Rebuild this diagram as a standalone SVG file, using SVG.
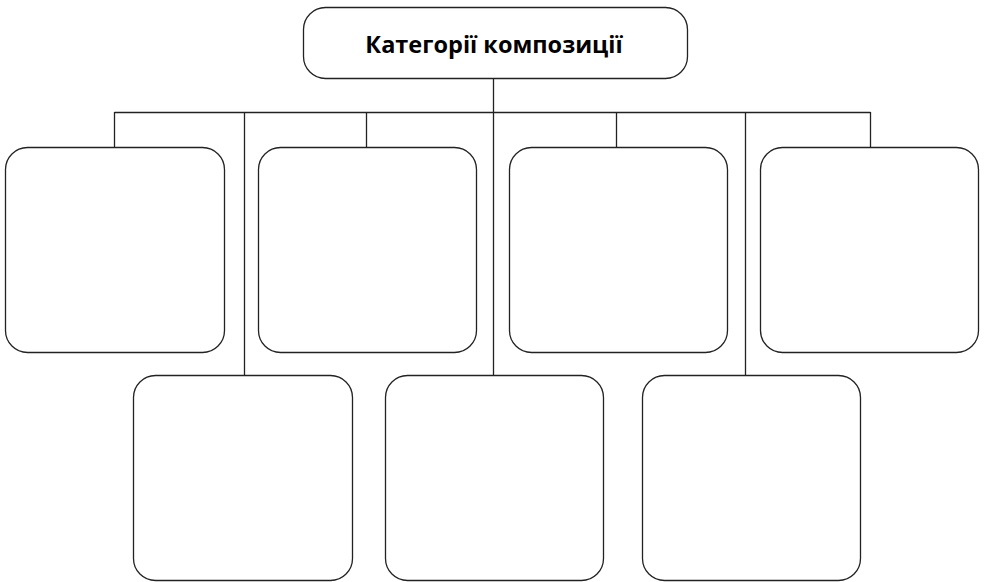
<svg xmlns="http://www.w3.org/2000/svg" width="986" height="582" viewBox="0 0 986 582">
<style>
.box{fill:#fff;stroke:#222;stroke-width:1.3}
.ln{fill:none;stroke:#222;stroke-width:1.3}
.title{font-family:"Open Sans","Liberation Sans",sans-serif;font-weight:bold;font-size:23.5px;fill:#000;text-anchor:middle}
</style>
<rect width="986" height="582" fill="#fff"/>
<g id="connectors">
<line class="ln" x1="493.5" y1="78" x2="493.5" y2="375"/>
<line class="ln" x1="114.5" y1="112.5" x2="870.5" y2="112.5"/>
<line class="ln" x1="114.5" y1="112" x2="114.5" y2="147"/>
<line class="ln" x1="366.5" y1="112" x2="366.5" y2="147"/>
<line class="ln" x1="616.5" y1="112" x2="616.5" y2="147"/>
<line class="ln" x1="870.5" y1="112" x2="870.5" y2="147"/>
<line class="ln" x1="244.5" y1="112" x2="244.5" y2="375"/>
<line class="ln" x1="745.5" y1="112" x2="745.5" y2="375"/>
</g>
<g id="root">
<rect class="box" x="303.5" y="7.5" width="384" height="71" rx="22"/>
<text class="title" x="494" y="53">Категорії композиції</text>
</g>
<g id="n1"><rect class="box" x="5.5" y="147.5" width="219" height="205" rx="22"/></g>
<g id="n2"><rect class="box" x="258.5" y="147.5" width="218" height="205" rx="22"/></g>
<g id="n3"><rect class="box" x="509.5" y="147.5" width="218" height="205" rx="22"/></g>
<g id="n4"><rect class="box" x="760.5" y="147.5" width="218" height="205" rx="22"/></g>
<g id="n5"><rect class="box" x="133.5" y="375.5" width="219" height="205" rx="22"/></g>
<g id="n6"><rect class="box" x="385.5" y="375.5" width="218" height="205" rx="22"/></g>
<g id="n7"><rect class="box" x="642.5" y="375.5" width="218" height="205" rx="22"/></g>
</svg>
